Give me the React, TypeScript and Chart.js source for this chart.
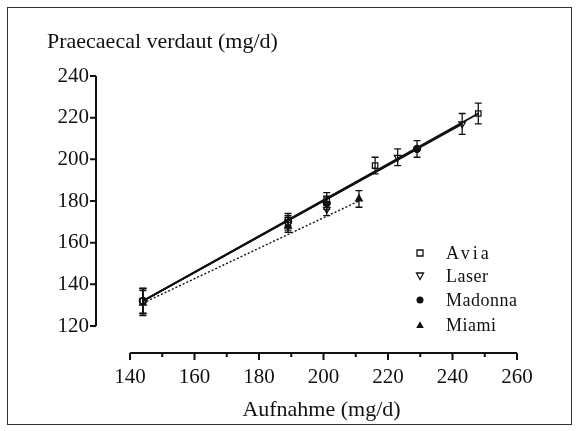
import React, { useEffect, useRef } from "react";
import { Chart, registerables } from "chart.js";

Chart.register(...registerables);

// ---- data ----
const seriesNames = ["Avia", "Laser", "Madonna", "Miami"];

const aviaX = [144, 189, 201, 216, 248];
const aviaY = [132, 171, 181, 197, 222];
const aviaErr = [6, 3, 3, 4, 5];

const laserX = [144, 189, 201, 223, 243];
const laserY = [132, 169, 176, 201, 217];
const laserErr = [6, 3, 3, 4, 5];

const madonnaX = [144, 189, 201, 229];
const madonnaY = [132, 170, 179, 205];
const madonnaErr = [6, 3, 3, 4];

const miamiX = [144, 189, 211];
const miamiY = [131, 168, 181];
const miamiErr = [6, 3, 4];

// regression line end points
const aviaFitX = [144, 248];
const aviaFitY = [132, 222];
const laserFitX = [144, 243];
const laserFitY = [132, 217];
const madonnaFitX = [144, 229];
const madonnaFitY = [132, 205];
const miamiFitX = [144, 211];
const miamiFitY = [131, 180];

const xTicks = [140, 160, 180, 200, 220, 240, 260];
const xMinorTicks = [150, 170, 190, 210, 230, 250];
const yTicks = [120, 140, 160, 180, 200, 220, 240];

const yTitle = "Praecaecal verdaut (mg/d)";
const xTitle = "Aufnahme (mg/d)";

const FONT = "'Liberation Serif', 'DejaVu Serif', serif";
const INK = "#111";

const toPts = (xs: number[], ys: number[]) => xs.map((x, i) => ({ x, y: ys[i] }));

function drawMarker(ctx: CanvasRenderingContext2D, kind: string, x: number, y: number) {
  ctx.save();
  ctx.strokeStyle = INK;
  ctx.fillStyle = INK;
  ctx.lineWidth = 1.3;
  ctx.beginPath();
  if (kind === "square") {
    ctx.fillStyle = "#fff";
    ctx.rect(x - 3, y - 3, 6, 6);
    ctx.fill();
    ctx.stroke();
  } else if (kind === "down") {
    ctx.fillStyle = "#fff";
    ctx.moveTo(x - 3.5, y - 3);
    ctx.lineTo(x + 3.5, y - 3);
    ctx.lineTo(x, y + 3.5);
    ctx.closePath();
    ctx.fill();
    ctx.stroke();
  } else if (kind === "circle") {
    ctx.arc(x, y, 3.5, 0, Math.PI * 2);
    ctx.fill();
  } else {
    ctx.moveTo(x - 3.8, y + 3);
    ctx.lineTo(x + 3.8, y + 3);
    ctx.lineTo(x, y - 3.8);
    ctx.closePath();
    ctx.fill();
  }
  ctx.restore();
}

const markerKinds = ["square", "down", "circle", "up"];

const decorPlugin = {
  id: "decor",
  afterDatasetsDraw(chart: any) {
    const ctx: CanvasRenderingContext2D = chart.ctx;
    const xs = chart.scales.x;
    const ys = chart.scales.y;
    // error bars
    chart.data.datasets.forEach((ds: any) => {
      if (!ds.errors) return;
      ctx.save();
      ctx.strokeStyle = INK;
      ctx.lineWidth = 1.3;
      ds.data.forEach((p: any, i: number) => {
        const e = ds.errors[i];
        const px = xs.getPixelForValue(p.x);
        const top = ys.getPixelForValue(p.y + e);
        const bot = ys.getPixelForValue(p.y - e);
        ctx.beginPath();
        ctx.moveTo(px, top);
        ctx.lineTo(px, bot);
        ctx.moveTo(px - 3.5, top);
        ctx.lineTo(px + 3.5, top);
        ctx.moveTo(px - 3.5, bot);
        ctx.lineTo(px + 3.5, bot);
        ctx.stroke();
      });
      ctx.restore();
    });
  },
  afterDraw(chart: any) {
    const ctx: CanvasRenderingContext2D = chart.ctx;
    const area = chart.chartArea;
    const xs = chart.scales.x;
    const ys = chart.scales.y;
    ctx.save();
    ctx.strokeStyle = INK;
    ctx.lineWidth = 2;
    // y axis (offset to the left)
    const ax = area.left - 34;
    ctx.beginPath();
    ctx.moveTo(ax, ys.getPixelForValue(yTicks[yTicks.length - 1]));
    ctx.lineTo(ax, ys.getPixelForValue(yTicks[0]));
    yTicks.forEach((v) => {
      const py = ys.getPixelForValue(v);
      ctx.moveTo(ax - 6, py);
      ctx.lineTo(ax, py);
    });
    ctx.stroke();
    // x axis (offset below)
    const ay = area.bottom + 27;
    ctx.beginPath();
    ctx.moveTo(xs.getPixelForValue(xTicks[0]), ay);
    ctx.lineTo(xs.getPixelForValue(xTicks[xTicks.length - 1]), ay);
    xTicks.forEach((v) => {
      const px = xs.getPixelForValue(v);
      ctx.moveTo(px, ay);
      ctx.lineTo(px, ay + 7);
    });
    xMinorTicks.forEach((v) => {
      const px = xs.getPixelForValue(v);
      ctx.moveTo(px, ay);
      ctx.lineTo(px, ay + 4);
    });
    ctx.stroke();

    // titles
    ctx.fillStyle = INK;
    ctx.font = `22px ${FONT}`;
    ctx.textBaseline = "alphabetic";
    ctx.textAlign = "left";
    ctx.fillText(yTitle, 47, 48);
    ctx.textAlign = "center";
    ctx.fillText(xTitle, (xs.getPixelForValue(xTicks[0]) + xs.getPixelForValue(xTicks[xTicks.length - 1])) / 2 - 2, 416);

    // legend
    ctx.font = `18px ${FONT}`;
    ctx.textAlign = "left";
    ctx.textBaseline = "middle";
    const rows = [253, 276, 300, 325];
    seriesNames.forEach((name, i) => {
      drawMarker(ctx, markerKinds[i], 420, rows[i]);
      ctx.fillStyle = INK;
      (ctx as any).letterSpacing = i === 0 ? "3px" : "0.5px";
      ctx.fillText(name, 446, rows[i] + 1);
    });
    (ctx as any).letterSpacing = "0px";
    ctx.restore();
  },
};

export default function App() {
  const ref = useRef<HTMLCanvasElement>(null);

  useEffect(() => {
    if (!ref.current) return;
    const pointStyles: any[] = ["rect", "triangle", "circle", "triangle"];
    const rotations = [0, 180, 0, 0];
    const fills = ["#fff", "#fff", INK, INK];
    const sets = [
      [aviaX, aviaY, aviaErr],
      [laserX, laserY, laserErr],
      [madonnaX, madonnaY, madonnaErr],
      [miamiX, miamiY, miamiErr],
    ];
    const fits = [
      [aviaFitX, aviaFitY],
      [laserFitX, laserFitY],
      [madonnaFitX, madonnaFitY],
      [miamiFitX, miamiFitY],
    ];
    const datasets: any[] = [];
    fits.forEach((f, i) => {
      datasets.push({
        label: seriesNames[i] + " fit",
        data: toPts(f[0], f[1]),
        showLine: true,
        pointRadius: 0,
        borderColor: INK,
        borderWidth: i === 3 ? 1.4 : 2,
        borderDash: i === 3 ? [2, 2] : [],
      });
    });
    sets.forEach((s, i) => {
      datasets.push({
        label: seriesNames[i],
        data: toPts(s[0] as number[], s[1] as number[]),
        errors: s[2],
        showLine: false,
        pointStyle: pointStyles[i],
        rotation: rotations[i],
        pointRadius: i === 2 ? 3.5 : 3.8,
        pointBackgroundColor: fills[i],
        pointBorderColor: INK,
        pointBorderWidth: 1.3,
      });
    });

    const chart = new Chart(ref.current, {
      type: "scatter",
      data: { datasets },
      options: {
        animation: false,
        responsive: false,
        devicePixelRatio: 1,
        layout: { padding: { top: 76, right: 60, left: 0, bottom: 0 } },
        plugins: {
          legend: { display: false },
          tooltip: { enabled: false },
        },
        scales: {
          x: {
            type: "linear",
            min: 140,
            max: 260,
            grid: { display: false, drawTicks: false },
            border: { display: false },
            afterFit: (s: any) => {
              s.height = 105;
            },
            afterBuildTicks: (s: any) => {
              s.ticks = xTicks.map((v) => ({ value: v }));
            },
            ticks: {
              color: INK,
              font: { family: FONT, size: 21 },
              padding: 39,
              maxRotation: 0,
            },
          },
          y: {
            type: "linear",
            min: 120,
            max: 240,
            grid: { display: false, drawTicks: false },
            border: { display: false },
            afterFit: (s: any) => {
              s.width = 130;
            },
            afterBuildTicks: (s: any) => {
              s.ticks = yTicks.map((v) => ({ value: v }));
            },
            ticks: {
              color: INK,
              font: { family: FONT, size: 21 },
              padding: 41,
            },
          },
        },
      } as any,
      plugins: [decorPlugin],
    });
    return () => chart.destroy();
  }, []);

  return (
    <div style={{ position: "fixed", left: 0, top: 0, width: 577, height: 431, background: "#fff" }}>
      <canvas ref={ref} width={577} height={431} style={{ position: "absolute", left: 0, top: 0 }} />
      <div
        style={{
          position: "absolute",
          left: 7,
          top: 7,
          width: 563,
          height: 416,
          border: "1px solid #333",
          pointerEvents: "none",
        }}
      />
    </div>
  );
}
